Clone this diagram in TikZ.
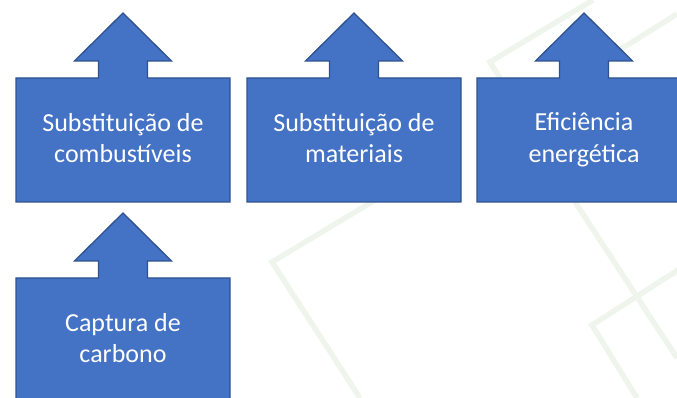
\documentclass[tikz,border=0pt]{standalone}
\usepackage{fontspec}
\setmainfont{Carlito}
\usetikzlibrary{positioning,calc,backgrounds}

\definecolor{leverblue}{HTML}{4472C4}
\definecolor{leveredge}{HTML}{2F528F}
\definecolor{watermark}{HTML}{EFF5ED}

\newcommand{\leverstrut}{\rule[-4pt]{0pt}{23pt}}

\tikzset{
  lever/.style={rectangle, minimum width=214pt, minimum height=124pt,
    inner sep=0pt, outer sep=0pt, text=white, align=center,
    font=\fontsize{26}{31.5}\selectfont,
    execute at begin node=\leverstrut, execute at end node=\leverstrut},
  leverline/.style={draw=leveredge, fill=leverblue, line width=1.3pt},
  faint/.style={draw=watermark, line width=5.5pt}
}

% box with an up arrow on its top side
\newcommand{\uplever}[1]{%
  \draw[leverline] (#1.north west) -- ($(#1.north)+(-24.5,0)$) -- ++(0,17)
    -- ++(-24,0) -- ($(#1.north)+(0,65)$) -- ($(#1.north)+(48.5,17)$)
    -- ++(-24,0) -- ++(0,-17) -- (#1.north east) -- (#1.south east)
    -- (#1.south west) -- cycle;}

\begin{document}
\begin{tikzpicture}[x=1pt,y=1pt]
  \useasboundingbox (0,0) rectangle (677,398);

  \node[lever] (fuel) at (123,258) {Substituição de\\combustíveis};
  \node[lever] (material) [right=17pt of fuel] {Substituição de\\materiais};
  \node[lever] (efficiency) [right=16pt of material] {Eficiência\\energética};
  \node[lever] (capture) [below=76pt of fuel] {Captura de\\carbono};

  \begin{scope}[on background layer]
    % faded lines of the slide behind
    \draw[faint] (390,207) -- (272,136) -- (360,0);
    \draw[faint] (575,196) -- (677,40);
    \draw[faint] (700,142) -- (592,73) -- (637,0);
    \draw[faint] (500,320) -- (490,336) -- (593,398);
    \draw[faint] (610,342) -- (677,384);

    \foreach \b in {fuel,material,efficiency,capture}
      {\uplever{\b}}
  \end{scope}
\end{tikzpicture}
\end{document}
